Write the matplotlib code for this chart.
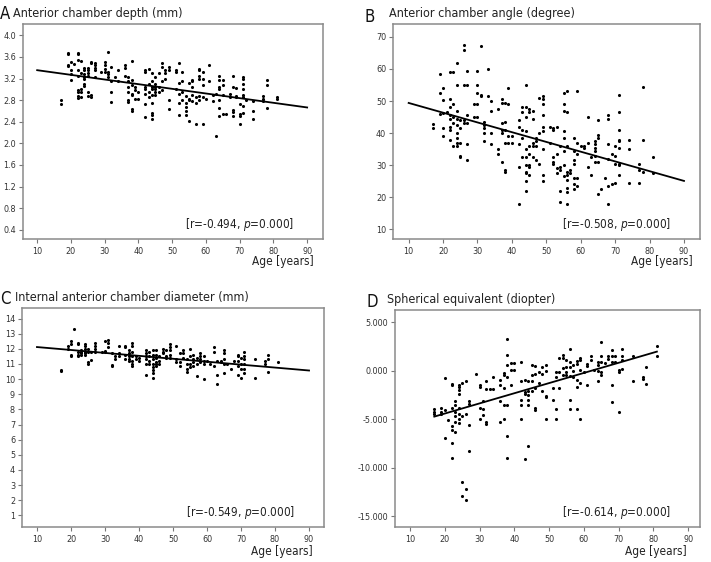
import numpy as np
import matplotlib
matplotlib.use("Agg")
import matplotlib.pyplot as plt

plt.rcParams["font.family"] = ["DejaVu Sans"]
plt.rcParams["font.stretch"] = "condensed"
plt.rcParams["mathtext.fontset"] = "custom"
plt.rcParams["mathtext.it"] = "DejaVu Sans:italic"

# =========================
# Data (age -> measured values), read off the figure
# =========================
acd = {
    17: [2.80, 2.73], 19: [3.68, 3.65, 3.45, 3.43], 20: [3.50, 3.35, 3.28, 3.18],
    21: [3.47], 22: [3.68, 3.65, 3.55, 3.35, 3.25, 2.98, 2.95, 2.87, 2.84],
    23: [3.52, 3.30, 3.00, 2.95, 2.85], 24: [3.40, 3.35, 3.28, 3.22, 3.20, 3.10, 3.06],
    25: [3.40, 3.35, 3.30, 3.25, 2.95, 2.88], 26: [3.50, 3.48, 2.90, 2.86],
    27: [3.48, 3.45, 3.40, 3.35, 3.22], 29: [3.33], 30: [3.50, 3.46, 3.38, 3.33],
    31: [3.70, 3.33, 3.28, 3.22], 32: [3.42, 3.15, 2.95, 2.76], 33: [3.22],
    34: [3.35, 3.15], 36: [3.45, 3.40, 3.25], 37: [3.22, 3.15, 3.05, 2.95, 2.80, 2.77],
    38: [3.53, 3.18, 3.08, 2.92, 2.90, 2.63, 2.60], 39: [3.05, 2.98, 2.82], 40: [2.95, 2.82],
    42: [3.35, 3.33, 3.05, 3.00, 2.92, 2.72, 2.48], 43: [3.38, 3.10, 2.95, 2.85],
    44: [3.30, 3.15, 3.05, 3.00, 2.90, 2.75, 2.56, 2.52, 2.46],
    45: [3.22, 3.10, 3.05, 3.00, 2.95, 2.90], 46: [3.30, 3.05, 2.95],
    47: [3.48, 3.42, 3.15, 2.98], 48: [3.35, 3.30, 3.20], 49: [3.42, 3.35, 2.80, 2.64],
    51: [3.35, 3.32, 3.00], 52: [3.48, 3.12, 2.92, 2.75, 2.52], 53: [3.33, 3.15, 2.95, 2.80],
    54: [2.88, 2.75, 2.68, 2.60, 2.52], 55: [3.12, 2.82, 2.80, 2.42],
    56: [3.18, 3.15, 3.05, 2.90, 2.78], 57: [2.85, 2.75, 2.36],
    58: [3.38, 3.35, 3.25, 3.20, 2.88, 2.80], 59: [3.32, 3.20, 3.08, 2.85, 2.36],
    60: [2.82], 61: [3.46, 3.15], 62: [2.90, 2.78], 63: [2.92, 2.14],
    64: [3.25, 3.18, 3.05, 3.00, 2.80, 2.65, 2.50], 65: [3.18, 3.08, 2.90, 2.55],
    66: [2.54], 67: [2.92, 2.85], 68: [3.25, 3.05, 2.62, 2.58, 2.50], 69: [3.02, 2.88, 2.85],
    70: [2.72, 2.55, 2.50, 2.36], 71: [3.23, 3.20, 3.10, 3.00, 2.90, 2.85, 2.70, 2.57],
    72: [2.80], 74: [2.78, 2.60, 2.45], 77: [2.87, 2.83, 2.78], 78: [3.18, 3.08, 2.65],
    81: [2.85, 2.82],
}

aca = {
    17: [42.8, 41.5], 19: [58.5, 52.5, 46.0], 20: [54.0, 50.2, 46.2, 41.5, 39.0], 21: [46.5],
    22: [59.0, 50.5, 48.0, 45.5, 44.5, 42.0, 41.0, 38.0], 23: [59.0, 49.0, 45.0, 43.0, 36.0],
    24: [62.0, 55.0, 47.0, 44.5, 42.5, 40.0, 38.5, 37.0, 36.0], 25: [44.0, 41.5, 37.0, 33.0, 32.5],
    26: [67.5, 65.8, 55.0, 44.0, 43.0], 27: [59.5, 55.0, 45.5, 43.0, 36.5, 31.5], 29: [49.0, 45.0],
    30: [59.5, 55.0, 52.5, 49.0, 45.0], 31: [67.0, 52.0, 51.5], 32: [43.5, 42.5, 41.5, 40.0, 37.5],
    33: [60.0, 51.5], 34: [50.0, 47.0, 40.0, 36.5], 36: [47.5, 35.0, 33.5],
    37: [50.5, 49.5, 43.0, 41.0, 40.0, 31.0], 38: [49.5, 43.5, 41.0, 37.0, 28.5, 28.0],
    39: [54.0, 49.0, 39.0, 37.0], 40: [39.0, 37.0], 42: [44.0, 42.0, 36.5, 29.5, 18.0],
    43: [48.0, 46.5, 41.0, 38.5, 32.5],
    44: [55.0, 48.0, 45.0, 40.5, 35.0, 32.5, 30.0, 28.0, 27.5, 25.0, 22.0],
    45: [47.5, 46.5, 36.0, 33.5, 30.0, 29.5, 27.0], 46: [47.0, 44.5, 37.0, 36.0, 32.5],
    47: [38.5, 37.5, 36.0, 31.5], 48: [51.0, 40.0, 30.5],
    49: [51.5, 50.5, 49.0, 45.5, 42.0, 40.5, 35.0, 27.0, 25.0], 51: [42.0, 37.0],
    52: [41.5, 41.0, 32.5, 31.0, 30.5], 53: [42.0, 33.5, 29.0, 27.5],
    54: [36.0, 29.5, 28.5, 22.0, 18.5], 55: [52.5, 49.0, 47.0, 40.5, 38.5, 34.5, 30.0, 26.5],
    56: [53.0, 46.5, 36.0, 28.0, 27.0, 25.5, 23.0, 21.5, 17.8], 57: [28.5, 27.5],
    58: [38.5, 34.5, 31.5, 30.5, 26.0, 24.0, 22.5], 59: [53.0, 37.0, 33.5, 26.0, 23.5],
    60: [36.0], 61: [36.0, 35.5], 62: [45.0, 37.0, 29.5], 63: [32.5, 27.0],
    64: [37.5, 36.5, 35.5, 34.5, 33.0, 31.0], 65: [44.0, 39.5, 38.5, 31.0, 21.0], 66: [22.5],
    67: [26.0], 68: [45.5, 44.5, 36.5, 32.0, 23.5, 18.0], 69: [33.5, 24.0],
    70: [36.0, 33.0, 30.5, 24.5], 71: [52.0, 46.5, 41.0, 38.0, 37.5, 35.5, 30.5, 30.0, 27.0],
    74: [38.0, 35.0, 24.5], 77: [30.5, 28.5, 24.5], 78: [54.5, 38.0, 28.0], 81: [32.5, 27.5],
}

acdia = {
    17: [10.6, 10.55], 19: [12.2, 12.0], 20: [12.5, 12.3, 11.6, 11.55], 21: [13.3],
    22: [12.4, 12.35, 11.8, 11.6, 11.5], 23: [11.9, 11.8, 11.7, 11.6],
    24: [12.3, 12.2, 12.0, 11.8, 11.7, 11.6], 25: [12.0, 11.8, 11.1, 11.0], 26: [11.8, 11.25],
    27: [12.4, 12.2, 12.0, 11.8], 29: [11.8], 30: [12.5, 11.85, 11.8], 31: [12.6, 12.4, 12.1],
    32: [11.7, 10.95, 10.85], 33: [11.5, 11.3], 34: [12.2, 11.7, 11.5], 36: [12.2, 12.1, 11.6, 11.3],
    37: [11.9, 11.7, 11.5, 11.3, 11.2], 38: [12.4, 12.2, 11.8, 11.5, 11.2, 11.0, 10.9],
    39: [11.5, 11.3], 40: [11.4, 11.2], 42: [11.9, 11.7, 11.5, 11.3, 11.0, 10.3],
    43: [11.8, 11.5, 11.2, 11.0], 44: [11.9, 11.6, 11.3, 11.0, 10.8, 10.6, 10.4, 10.1],
    45: [11.9, 11.6, 11.4, 11.1, 11.0, 10.9], 46: [11.5, 11.2, 11.0], 47: [12.0, 11.8, 11.7],
    48: [11.9, 11.5, 11.4], 49: [12.3, 12.1, 11.9, 11.6, 11.4], 51: [12.2, 11.3, 11.1],
    52: [11.7, 11.1, 10.9], 53: [11.9, 11.7, 11.4], 54: [11.3, 11.0, 10.7, 10.5],
    55: [12.0, 11.5, 11.0, 10.8], 56: [11.6, 11.3, 11.1, 10.9], 57: [11.4, 11.0, 10.2],
    58: [11.7, 11.5, 11.3, 11.1], 59: [11.5, 11.2, 11.0, 10.0], 60: [11.2], 61: [11.0],
    62: [12.1, 11.8, 10.9], 63: [11.2, 10.3, 9.7], 64: [11.2, 11.1],
    65: [11.9, 11.7, 11.3, 11.0, 10.4], 66: [11.0], 67: [10.7], 68: [11.2],
    69: [11.6, 11.5, 11.2, 10.9, 10.3], 70: [11.4, 11.0, 10.7, 10.1],
    71: [11.8, 11.5, 11.3, 11.0, 10.7, 10.4], 74: [11.3, 10.1], 77: [11.2, 11.0],
    78: [11.6, 11.3, 10.5], 81: [11.1],
}

se = {
    17: [-3.95, -4.2, -4.45], 19: [-3.8, -4.2, -4.5], 20: [-0.7, -4.0, -6.95], 21: [-5.05],
    22: [-1.4, -1.5, -3.8, -5.7, -6.1, -7.45, -9.0],
    23: [-3.15, -3.5, -4.2, -4.7, -5.3, -6.35],
    24: [-1.45, -1.7, -1.95, -2.4, -3.85, -4.5, -4.95, -5.4],
    25: [-1.3, -4.65, -11.5, -12.9], 26: [-1.0, -4.5, -12.2, -13.3],
    27: [-3.15, -3.45, -5.55, -8.25], 29: [-0.35], 30: [-1.5, -1.7, -3.85, -5.0],
    31: [-3.15, -3.9, -4.6], 32: [-1.0, -1.85, -5.3, -5.5], 33: [-1.85], 34: [-0.6, -1.85],
    36: [-0.95, -1.45, -3.1, -5.3], 37: [-0.25, -0.4, -1.8, -3.5, -4.95],
    38: [3.3, 1.65, 0.55, -0.6, -3.55, -6.75, -8.95], 39: [0.8, 0.1, -1.45], 40: [0.8, 0.1],
    42: [0.9, -1.1, -3.0, -3.55, -5.0], 43: [-0.95, -2.2, -2.4, -9.1],
    44: [-1.1, -2.05, -2.5, -3.0, -3.55, -7.75], 45: [0.55, -0.4, -1.1, -2.05],
    46: [0.45, -0.35, -1.8, -3.85, -4.0], 47: [-0.15, -1.3], 48: [0.35, -0.35, -2.05],
    49: [0.6, 0.0, -2.6, -2.75, -5.0], 51: [-1.8, -3.0], 52: [-0.15, -0.6, -3.95, -5.0],
    53: [1.3, -0.15, -1.8], 54: [1.65, 1.35, 0.25, -0.4], 55: [1.15, 0.35, -0.15, -0.4],
    56: [2.25, 0.9, 0.35, -0.5, -3.0, -3.95], 57: [0.6, 0.0, -0.6],
    58: [1.05, 0.7, -0.95, -1.7, -3.95], 59: [1.35, 1.15, 0.1, -1.3, -5.0], 60: [-0.15],
    61: [0.7, 0.45, -1.45], 62: [1.5, 1.15], 63: [0.1], 64: [0.95, 0.55, 0.0, -1.0],
    65: [3.0, 1.5, 0.95, -0.15, -0.4], 66: [0.8], 67: [1.5, 1.25],
    68: [2.15, 1.5, 0.95, -1.45, -3.25], 69: [1.5, 0.9], 70: [0.1, -0.15, -4.25],
    71: [2.25, 1.5, 1.15, 0.2], 74: [1.5, -1.0], 77: [-0.6, -0.8], 78: [0.35, -1.4],
    81: [2.6, 1.55],
}

# regression lines (age, value)
acd_fit_age, acd_fit_val = [10, 90], [3.355, 2.665]
aca_fit_age, aca_fit_val = [10, 90], [49.4, 25.1]
acdia_fit_age, acdia_fit_val = [10, 90], [12.12, 10.57]
se_fit_age, se_fit_val = [17, 81], [-4.72, 1.98]

age_ticks = [10, 20, 30, 40, 50, 60, 70, 80, 90]
acd_ticks = [0.4, 0.8, 1.2, 1.6, 2.0, 2.4, 2.8, 3.2, 3.6, 4.0]
aca_ticks = [10, 20, 30, 40, 50, 60, 70]
acdia_ticks = list(range(1, 15))
se_ticks = [-15, -10, -5, 0, 5]

stats = ["-0.494", "-0.508", "-0.549", "-0.614"]


def flatten(d):
    xs, ys = [], []
    for age, vals in d.items():
        xs.extend([age] * len(vals))
        ys.extend(vals)
    return np.array(xs), np.array(ys)


fig = plt.figure(figsize=(7.11, 5.62), dpi=100)

panels = [
    # letter, title, data, fit, ticks, fmt, ylim, xlim, rect, letter pos, title pos, age label pos
    ("A", "Anterior chamber depth (mm)", acd, (acd_fit_age, acd_fit_val), acd_ticks, "{:.1f}",
     (0.23, 4.21), (5.8, 94.7), [23, 24, 323, 239], (0, 14), (13, 13), (314, 262)),
    ("B", "Anterior chamber angle (degree)", aca, (aca_fit_age, aca_fit_val), aca_ticks, "{:.0f}",
     (7.0, 74.0), (5.45, 94.65), [393, 24, 700, 239], (365, 17), (389, 14), (693, 262)),
    ("C", "Internal anterior chamber diameter (mm)", acdia, (acdia_fit_age, acdia_fit_val),
     acdia_ticks, "{:.0f}", (0.23, 14.7), (5.6, 94.4), [22, 308, 324, 527], (0, 299), (15, 298), (313, 552)),
    ("D", "Spherical equivalent (diopter)", se, (se_fit_age, se_fit_val), se_ticks, "{:.3f}",
     (-16.1, 6.27), (5.7, 93.4), [395, 310, 700, 527], (366, 302), (387, 300), (687, 552)),
]

W, H = 711.0, 562.0
for i, (letter, title, data, fit, yticks, fmt, ylim, xlim, rect, lpos, tpos, apos) in enumerate(panels):
    x0, y0, x1, y1 = rect
    ax = fig.add_axes([x0 / W, 1 - y1 / H, (x1 - x0) / W, (y1 - y0) / H])
    xs, ys = flatten(data)
    ax.scatter(xs, ys, s=5, marker="o", color="black", linewidths=0, zorder=3)
    ax.plot(fit[0], fit[1], color="black", linewidth=1.3, zorder=4)

    ax.set_xlim(*xlim)
    ax.set_ylim(*ylim)
    ax.set_xticks(age_ticks)
    ax.set_yticks(yticks)
    ax.set_yticklabels([fmt.format(v) for v in yticks])
    for side in ["top", "right", "bottom", "left"]:
        ax.spines[side].set_color("#8a8a8a")
        ax.spines[side].set_linewidth(1.1)
    ax.tick_params(axis="both", direction="out", length=3, width=0.8, color="#777777",
                   labelsize=6.5, labelcolor="#333333", pad=2)
    ax.tick_params(axis="x", pad=3)

    ax.text(0.905, 0.068, f"[r={stats[i]}, " + r"$\mathit{p}$" + "=0.000]", transform=ax.transAxes,
            ha="right", va="center", fontsize=8.5, color="#222222")

    fig.text(lpos[0] / W, 1 - lpos[1] / H, letter, fontsize=12, ha="left", va="center", color="#111111")
    fig.text(tpos[0] / W, 1 - tpos[1] / H, title, fontsize=9, ha="left", va="center", color="#222222")
    fig.text(apos[0] / W, 1 - apos[1] / H, "Age [years]", fontsize=8.5, ha="right", va="center",
             color="#222222")

plt.savefig("out.png", dpi=100)
